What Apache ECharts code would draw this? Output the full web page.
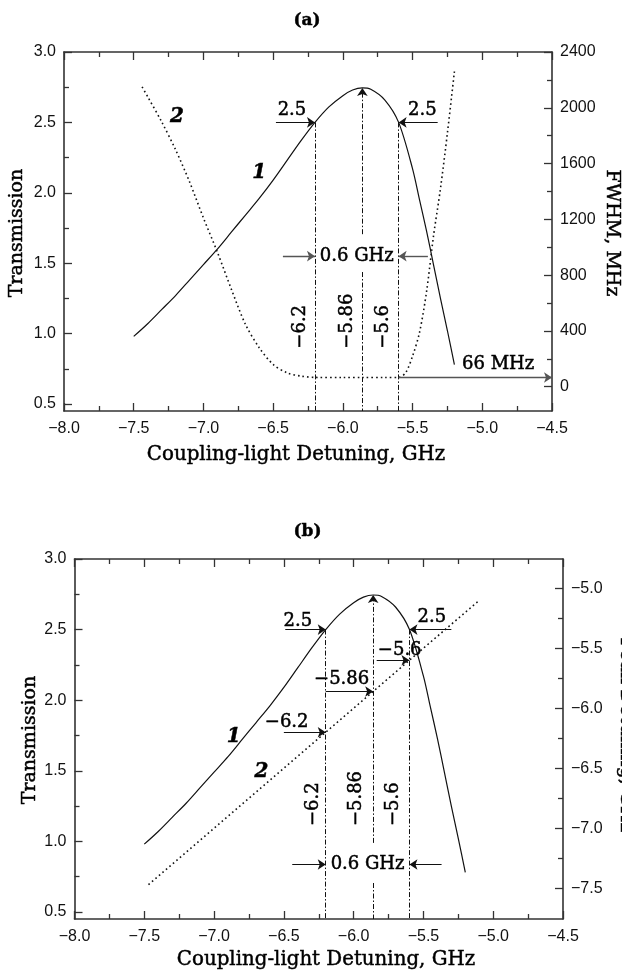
<!DOCTYPE html>
<html>
<head>
<meta charset="utf-8">
<script src="https://cdn.jsdelivr.net/npm/echarts@6/dist/echarts.min.js"></script>
<style>
  html, body { margin: 0; padding: 0; background: #fff; }
  #chart { width: 622px; height: 973px; }
</style>
</head>
<body>
<div id="chart"></div>
<script>
// Curve 1: probe transmission versus coupling-light detuning (GHz)
const transDetuning = [-7.5, -7.4, -7.3, -7.2, -7.1, -7.0, -6.9, -6.8, -6.7, -6.6, -6.5, -6.4, -6.3, -6.2,
  -6.1, -6.0, -5.93, -5.86, -5.8, -5.7, -5.6, -5.5, -5.45, -5.4, -5.35, -5.3, -5.25, -5.2];
const transmission = [0.98, 1.07, 1.17, 1.27, 1.38, 1.49, 1.60, 1.72, 1.84, 1.96, 2.09, 2.23, 2.37, 2.50,
  2.61, 2.69, 2.73, 2.745, 2.735, 2.66, 2.50, 2.17, 1.95, 1.73, 1.49, 1.25, 1.02, 0.78];

// Curve 2 of panel (a): FWHM of the transmission peak, MHz
const fwhmDetuning = [-7.44, -7.4, -7.3, -7.2, -7.1, -7.0, -6.9, -6.8, -6.7, -6.6, -6.5, -6.4, -6.3, -6.2,
  -6.0, -5.86, -5.7, -5.6, -5.55, -5.5, -5.45, -5.4, -5.35, -5.3, -5.25, -5.2];
const fwhm = [2150, 2080, 1900, 1700, 1470, 1210, 965, 700, 450, 280, 160, 100, 76, 67,
  66, 66, 66, 67, 100, 220, 390, 680, 1080, 1420, 1820, 2260];

// Curve 2 of panel (b): position of the transmission peak, GHz
const peakDetuning = [-7.47, -7.0, -6.5, -6.0, -5.5, -5.1];
const peakPosition = [-7.47, -7.0, -6.5, -6.0, -5.5, -5.1];

// Tick labels
const xTicks = [-8.0, -7.5, -7.0, -6.5, -6.0, -5.5, -5.0, -4.5];
const transTicks = [0.5, 1.0, 1.5, 2.0, 2.5, 3.0];
const fwhmTicks = [0, 400, 800, 1200, 1600, 2000, 2400];
const peakTicks = [-7.5, -7.0, -6.5, -6.0, -5.5, -5.0];

// Marked values
const edgeLow = -6.2, edgeHigh = -5.6, peakAt = -5.86;
const levelMark = 2.5, peakLevel = 2.745, fwhmFloor = 66;

// Axis ranges
const xMin = -8, xMax = -4.5;
const transMin = 0.45, transMax = 3.0;
const fwhmMin = -174, fwhmMax = 2400;
const peakMin = -7.756, peakMax = -4.756;

const TEXT_FONT = '"DejaVu Serif", "Liberation Serif", serif';
const TICK_FONT = '"Liberation Sans", Arial, sans-serif';
const INK = '#000';
const AXIS = '#333';
const GRAY = '#555';

const fmtNum = (v, d) => (v < 0 ? '\u2212' : '') + Math.abs(v).toFixed(d);
const mids = a => a.slice(1).map((v, i) => (v + a[i]) / 2);
const zip = (xs, ys) => xs.map((x, i) => [x, ys[i]]);
const gapText = (edgeHigh - edgeLow).toFixed(1) + ' GHz';

// Serif text is slightly thickened with an outline of its own colour
const serif = (size, extra) => Object.assign({
  fontFamily: TEXT_FONT, fontSize: size, color: INK, opacity: 1,
  textBorderColor: INK, textBorderWidth: 0.5
}, extra || {});

function xPair(g) {
  const common = {
    gridIndex: g, type: 'value', min: xMin, max: xMax, interval: xTicks[1] - xTicks[0],
    axisLine: { show: true, onZero: false, lineStyle: { color: AXIS, width: 1.6 } },
    axisTick: { show: true, inside: true, length: 8, lineStyle: { color: AXIS, width: 1.3 } },
    minorTick: { show: true, splitNumber: 2, length: 5, lineStyle: { color: AXIS, width: 1.3 } },
    splitLine: { show: false }, minorSplitLine: { show: false }
  };
  return [
    Object.assign({}, common, {
      position: 'bottom',
      axisLabel: { show: true, margin: 10, color: '#111', fontFamily: TICK_FONT, fontSize: 16,
        showMinLabel: true, showMaxLabel: true, formatter: v => fmtNum(v, 1) }
    }),
    Object.assign({}, common, { position: 'top', axisLabel: { show: false } })
  ];
}

function yPair(g, pos, min, max, ticks, digits) {
  return [
    {
      gridIndex: g, type: 'value', position: pos, min: min, max: max,
      axisLine: { show: true, onZero: false, lineStyle: { color: AXIS, width: 1.6 } },
      axisTick: { show: true, inside: true, length: 8, customValues: ticks, lineStyle: { color: AXIS, width: 1.3 } },
      axisLabel: { show: true, customValues: ticks, margin: 8, color: '#111', fontFamily: TICK_FONT, fontSize: 16,
        formatter: v => fmtNum(v, digits) },
      splitLine: { show: false }
    },
    {
      gridIndex: g, type: 'value', position: pos, min: min, max: max,
      axisLine: { show: false }, axisLabel: { show: false },
      axisTick: { show: true, inside: true, length: 5, customValues: mids(ticks), lineStyle: { color: AXIS, width: 1.3 } },
      splitLine: { show: false }
    }
  ];
}

const dashDot = { color: '#111', width: 1, type: [5, 2, 1.5, 2] };
const pointer = { color: '#111', width: 1.2, type: 'solid' };
const grayPointer = { color: GRAY, width: 1.4, type: 'solid' };

const seg = (p, q, style, arrow) => [
  { coord: p, symbol: 'none', lineStyle: style },
  { coord: q, symbol: arrow ? 'arrow' : 'none' }
];
const marks = data => ({
  silent: true, animation: false, symbol: ['none', 'none'], symbolSize: 8,
  label: { show: false }, emphasis: { disabled: true }, data: data
});

function curve(xi, yi, data, dotted) {
  return {
    type: 'line', xAxisIndex: xi, yAxisIndex: yi, data: data, symbol: 'none', showSymbol: false,
    smooth: 0.3, silent: true, z: 3,
    lineStyle: dotted ? { color: '#111', width: 1.6, type: [1.6, 3] } : { color: '#111', width: 1.2 }
  };
}

function notes(xi, yi, items, arrows) {
  return {
    type: 'scatter', xAxisIndex: xi, yAxisIndex: yi, symbolSize: 0, silent: true, z: 5,
    itemStyle: { color: INK, opacity: 1 },
    label: serif(18, { show: true, position: 'top', distance: 0 }),
    data: items.map(t => ({
      value: [t.x, t.y],
      label: serif(t.tag ? 20 : 18, Object.assign({ formatter: t.text, position: 'top', distance: 0 },
        t.rot ? { rotate: 90, align: 'left', verticalAlign: 'middle' } : { align: 'center', verticalAlign: 'middle' },
        t.tag ? { fontStyle: 'italic', fontWeight: 'bold' } : {}))
    })),
    markLine: marks(arrows)
  };
}

// Panel (a)
const notesA = [
  { x: -6.365, y: 2.585, text: fmtNum(levelMark, 1) },
  { x: -5.43, y: 2.585, text: fmtNum(levelMark, 1) },
  { x: -5.9, y: 1.55, text: gapText },
  { x: -6.307, y: 0.893, text: fmtNum(edgeLow, 1), rot: true },
  { x: -5.968, y: 0.893, text: fmtNum(peakAt, 2), rot: true },
  { x: -5.709, y: 0.893, text: fmtNum(edgeHigh, 1), rot: true },
  { x: -6.6, y: 2.145, text: '1', tag: true },
  { x: -7.19, y: 2.537, text: '2', tag: true },
  { x: -4.886, y: 0.782, text: fwhmFloor + ' MHz' }
];
const arrowsA = [
  seg([-6.48, levelMark], [edgeLow, levelMark], pointer, true),
  seg([-5.32, levelMark], [edgeHigh, levelMark], pointer, true),
  seg([-6.43, 1.55], [edgeLow, 1.55], grayPointer, true),
  seg([-5.39, 1.55], [edgeHigh, 1.55], grayPointer, true),
  seg([peakAt, 1.706], [peakAt, peakLevel], dashDot, true)
];

// Panel (b)
const notesB = [
  { x: -6.4, y: 2.56, text: fmtNum(levelMark, 1) },
  { x: -5.44, y: 2.59, text: fmtNum(levelMark, 1) },
  { x: -5.67, y: 2.35, text: fmtNum(edgeHigh, 1) },
  { x: -6.086, y: 2.15, text: fmtNum(peakAt, 2) },
  { x: -6.48, y: 1.84, text: fmtNum(edgeLow, 1) },
  { x: -5.9, y: 0.836, text: gapText },
  { x: -6.29, y: 1.108, text: fmtNum(edgeLow, 1), rot: true },
  { x: -5.98, y: 1.108, text: fmtNum(peakAt, 2), rot: true },
  { x: -5.716, y: 1.108, text: fmtNum(edgeHigh, 1), rot: true },
  { x: -6.86, y: 1.74, text: '1', tag: true },
  { x: -6.66, y: 1.49, text: '2', tag: true }
];
const arrowsB = [
  seg([-6.49, levelMark], [edgeLow, levelMark], pointer, true),
  seg([-5.30, levelMark], [edgeHigh, levelMark], pointer, true),
  seg([-6.44, 0.836], [edgeLow, 0.836], pointer, true),
  seg([-5.37, 0.836], [edgeHigh, 0.836], pointer, true),
  seg([peakAt, 0.989], [peakAt, peakLevel], dashDot, true)
];

const titleText = (x, y, text, rot, size, weight) => ({
  type: 'text', x: x, y: y, rotation: rot || 0, silent: true,
  style: { text: text, fontFamily: TEXT_FONT, fontSize: size, fontWeight: weight || 'normal',
    fill: INK, stroke: INK, lineWidth: 0.45, align: 'center', verticalAlign: 'middle' }
});

const option = {
  animation: false,
  backgroundColor: '#fff',
  grid: [
    { left: 64, top: 52, width: 488, height: 359, outerBoundsMode: 'none' },
    { left: 74.5, top: 559, width: 488.5, height: 360, outerBoundsMode: 'none' }
  ],
  xAxis: [...xPair(0), ...xPair(1)],
  yAxis: [
    ...yPair(0, 'left', transMin, transMax, transTicks, 1),
    ...yPair(0, 'right', fwhmMin, fwhmMax, fwhmTicks, 0),
    ...yPair(1, 'left', transMin, transMax, transTicks, 1),
    ...yPair(1, 'right', peakMin, peakMax, peakTicks, 1)
  ],
  series: [
    Object.assign(curve(0, 0, zip(transDetuning, transmission), false), {
      markLine: marks([
        seg([edgeLow, levelMark], [edgeLow, transMin], dashDot),
        seg([edgeHigh, levelMark], [edgeHigh, transMin], dashDot),
        seg([peakAt, 1.437], [peakAt, transMin], dashDot)
      ])
    }),
    Object.assign(curve(0, 2, zip(fwhmDetuning, fwhm), true), {
      markLine: marks([seg([edgeHigh, fwhmFloor], [xMax, fwhmFloor], grayPointer, true)])
    }),
    notes(0, 0, notesA, arrowsA),
    Object.assign(curve(2, 4, zip(transDetuning, transmission), false), {
      markLine: marks([
        seg([edgeLow, levelMark], [edgeLow, transMin], dashDot),
        seg([edgeHigh, levelMark], [edgeHigh, transMin], dashDot),
        seg([peakAt, 0.705], [peakAt, transMin], dashDot)
      ])
    }),
    Object.assign(curve(2, 6, zip(peakDetuning, peakPosition), true), {
      smooth: false,
      markLine: marks([
        seg([-6.5, edgeLow], [edgeLow, edgeLow], pointer, true),
        seg([edgeLow, peakAt], [peakAt, peakAt], pointer, true),
        seg([-5.835, edgeHigh], [edgeHigh, edgeHigh], pointer, true)
      ])
    }),
    notes(2, 4, notesB, arrowsB)
  ],
  graphic: [
    titleText(307, 21, '(a)', 0, 17, 'bold'),
    titleText(17, 233, 'Transmission', Math.PI / 2, 19),
    titleText(611.5, 233, 'FWHM, MHz', -Math.PI / 2, 19),
    titleText(296, 455, 'Coupling-light Detuning, GHz', 0, 19.8),
    titleText(307.5, 532, '(b)', 0, 17, 'bold'),
    titleText(30.5, 740, 'Transmission', Math.PI / 2, 19),
    titleText(626, 735, 'Peak Detuning, GHz', -Math.PI / 2, 19),
    titleText(326, 960, 'Coupling-light Detuning, GHz', 0, 19.8)
  ]
};

const chart = echarts.init(document.getElementById('chart'), null, { renderer: 'canvas' });
chart.setOption(option);
</script>
</body>
</html>
